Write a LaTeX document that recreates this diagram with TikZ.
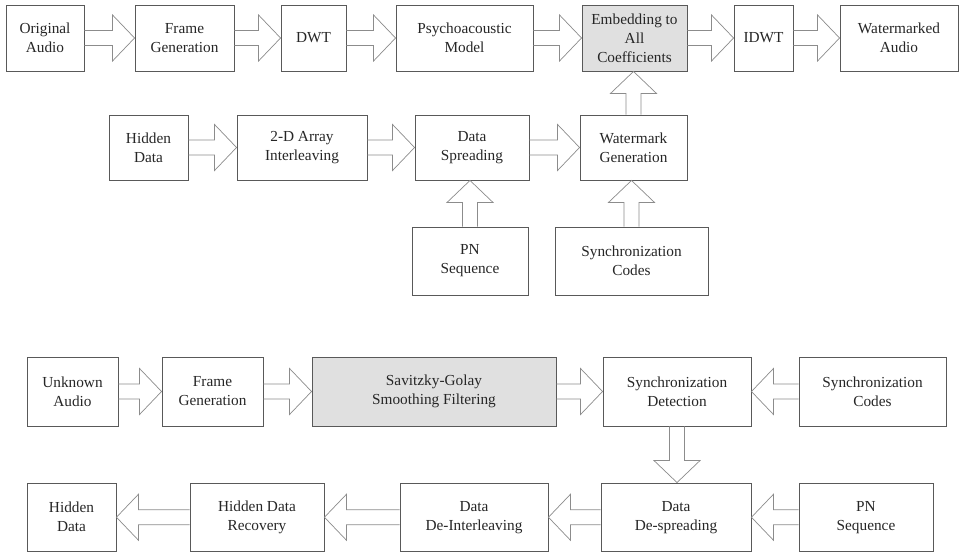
\documentclass[tikz,border=0pt]{standalone}
\usepackage{fontspec}
\setmainfont{Liberation Serif}
\usetikzlibrary{calc}
\tikzset{
  box/.style={draw=black!65, line width=0.9pt, text=black!85, align=center, inner sep=0pt,
    font=\fontsize{15.3}{19}\selectfont},
  shaded/.style={fill=black!12},
  barrow/.style={draw=black!45, line width=0.7pt, line join=miter},
}
\newcommand{\blkR}[2]{\draw[barrow] let \p1=(#1.east), \p2=(#2.west) in
  (\x1,\y2+7.5pt) -- (\x2-22pt,\y2+7.5pt) -- (\x2-22pt,\y2+23pt) -- (\x2,\y2)
  -- (\x2-22pt,\y2-23pt) -- (\x2-22pt,\y2-7.5pt) -- (\x1,\y2-7.5pt);}
\newcommand{\blkL}[2]{\draw[barrow] let \p1=(#1.west), \p2=(#2.east) in
  (\x1,\y2+7.5pt) -- (\x2+22pt,\y2+7.5pt) -- (\x2+22pt,\y2+23pt) -- (\x2,\y2)
  -- (\x2+22pt,\y2-23pt) -- (\x2+22pt,\y2-7.5pt) -- (\x1,\y2-7.5pt);}
\newcommand{\blkU}[2]{\draw[barrow] let \p1=(#1.north), \p2=(#2.south) in
  (\x1-7.5pt,\y1) -- (\x1-7.5pt,\y2-22pt) -- (\x1-23pt,\y2-22pt) -- (\x1,\y2)
  -- (\x1+23pt,\y2-22pt) -- (\x1+7.5pt,\y2-22pt) -- (\x1+7.5pt,\y1);}
\newcommand{\blkD}[2]{\draw[barrow] let \p1=(#1.south), \p2=(#2.north) in
  (\x1-7.5pt,\y1) -- (\x1-7.5pt,\y2+22pt) -- (\x1-23pt,\y2+22pt) -- (\x1,\y2)
  -- (\x1+23pt,\y2+22pt) -- (\x1+7.5pt,\y2+22pt) -- (\x1+7.5pt,\y1);}
\begin{document}
\begin{tikzpicture}[x=1pt,y=-1pt]
\useasboundingbox (0,0) rectangle (959,552);
\fill[white] (0,0) rectangle (959,552);
% Row 1
\node[box, minimum width=78pt,  minimum height=66pt] (oa)   at (45,38)    {Original\\Audio};
\node[box, minimum width=99pt,  minimum height=66pt] (fg)   at (184.5,38) {Frame\\Generation};
\node[box, minimum width=65pt,  minimum height=66pt] (dwt)  at (313.5,38) {DWT};
\node[box, minimum width=137pt, minimum height=66pt] (pm)   at (464.5,38) {Psychoacoustic\\Model};
\node[box, shaded, minimum width=105pt, minimum height=66pt] (emb) at (634.5,38) {Embedding to\\All\\Coefficients};
\node[box, minimum width=59pt,  minimum height=66pt] (idwt) at (763.5,38) {IDWT};
\node[box, minimum width=118pt, minimum height=66pt] (wa)   at (899,38)   {Watermarked\\Audio};
% Row 2
\node[box, minimum width=79pt,  minimum height=65pt] (hd)  at (148.5,147.5) {Hidden\\Data};
\node[box, minimum width=130pt, minimum height=65pt] (ai)  at (302,147.5)   {2-D Array\\Interleaving};
\node[box, minimum width=114pt, minimum height=65pt] (ds)  at (472,147.5)   {Data\\Spreading};
\node[box, minimum width=107pt, minimum height=65pt] (wg)  at (633.5,147.5) {Watermark\\Generation};
% Row 2b
\node[box, minimum width=116pt, minimum height=68pt] (pn)  at (470,261)   {PN\\Sequence};
\node[box, minimum width=153pt, minimum height=68pt] (sc)  at (631.5,261) {Synchronization\\Codes};
% Row 3
\node[box, minimum width=91pt,  minimum height=69pt] (ua)  at (72.5,391.5)  {Unknown\\Audio};
\node[box, minimum width=101pt, minimum height=69pt] (fg2) at (212.5,391.5) {Frame\\Generation};
\node[box, shaded, minimum width=244pt, minimum height=69pt] (sg) at (434,391.5) {Savitzky-Golay\\Smoothing Filtering};
\node[box, minimum width=148pt, minimum height=69pt] (sd)  at (677,391.5)   {Synchronization\\Detection};
\node[box, minimum width=147pt, minimum height=69pt] (sc2) at (872.5,391.5) {Synchronization\\Codes};
% Row 4
\node[box, minimum width=89pt,  minimum height=68.5pt] (hd2) at (71.5,517.25) {Hidden\\Data};
\node[box, minimum width=134pt, minimum height=68.5pt] (hdr) at (257,517.25)  {Hidden Data\\Recovery};
\node[box, minimum width=148pt, minimum height=68.5pt] (ddi) at (474,517.25)  {Data\\De-Interleaving};
\node[box, minimum width=150pt, minimum height=68.5pt] (dds) at (676,517.25)  {Data\\De-spreading};
\node[box, minimum width=134pt, minimum height=68.5pt] (pn2) at (866,517.25)  {PN\\Sequence};
% Arrows row 1
\blkR{oa}{fg}
\blkR{fg}{dwt}
\blkR{dwt}{pm}
\blkR{pm}{emb}
\blkR{emb}{idwt}
\blkR{idwt}{wa}
% Arrows row 2
\blkR{hd}{ai}
\blkR{ai}{ds}
\blkR{ds}{wg}
\blkU{wg}{emb}
\blkU{pn}{ds}
\blkU{sc}{wg}
% Row 3
\blkR{ua}{fg2}
\blkR{fg2}{sg}
\blkR{sg}{sd}
\blkL{sc2}{sd}
\blkD{sd}{dds}
% Row 4
\blkL{pn2}{dds}
\blkL{dds}{ddi}
\blkL{ddi}{hdr}
\blkL{hdr}{hd2}
\end{tikzpicture}
\end{document}
